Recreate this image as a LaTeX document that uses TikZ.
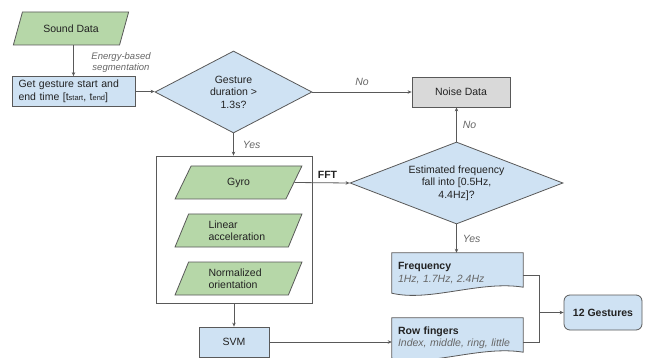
\documentclass[tikz,border=0pt]{standalone}
\usepackage{fontspec}
\setmainfont{Liberation Sans}
\usetikzlibrary{shapes.geometric,arrows.meta,backgrounds}
\definecolor{bluef}{HTML}{CFE2F3}
\definecolor{greenf}{HTML}{B6D7A8}
\definecolor{grayf}{HTML}{D9D9D9}
\definecolor{edge}{HTML}{595959}
\definecolor{lbl}{HTML}{666666}
\definecolor{txt}{HTML}{222222}
\begin{document}
\begin{tikzpicture}[x=1pt,y=-1pt,
  every node/.style={font=\fontsize{10.5}{12.5}\selectfont, text=txt},
  box/.style={draw=edge, line width=0.8pt, inner sep=0pt},
  bluebox/.style={box, fill=bluef},
  para/.style={box, fill=greenf, trapezium, trapezium stretches=true},
  dia/.style={box, fill=bluef, diamond, align=center},
  arr/.style={draw=edge, line width=0.8pt, -{Stealth[length=4pt,width=3.5pt]}},
  ln/.style={draw=edge, line width=0.8pt},
  lab/.style={font=\fontsize{10.5}{12.5}\selectfont\itshape, text=lbl, inner sep=0pt},
  docshape/.style={fill=bluef, draw=edge, line width=0.8pt},
]
\useasboundingbox (0,0) rectangle (645,358);

% nodes
\node[para, trapezium left angle=56, trapezium right angle=124,
      minimum width=116pt, minimum height=33pt] (sound) at (71,28.5) {Sound Data};
\node[bluebox, text width=110pt, inner xsep=6.5pt, minimum height=30pt, align=left]
      (get) at (73.5,91.5) {Get gesture start and\\end time [t{\fontsize{7.5}{8}\selectfont start}, t{\fontsize{7.5}{8}\selectfont end}]};
\node[lab, font=\fontsize{9.5}{11}\selectfont\itshape, align=center] (energy) at (121,63) {Energy-based\\segmentation};
\node[dia, aspect=1.9, minimum width=157pt, minimum height=82pt] (d1) at (233.5,92) {Gesture\\duration >\\1.3s?};
\node[box, fill=grayf, minimum width=98pt, minimum height=30pt] (noise) at (461,92) {Noise Data};
\node[dia, aspect=2.6, minimum width=213pt, minimum height=82pt] (d2) at (456.5,183) {Estimated frequency\\fall into [0.5Hz,\\4.4Hz]?};

\node[box, fill=white, minimum width=156pt, minimum height=147pt] (cont) at (234,229.5) {};
\node[para, trapezium left angle=68, trapezium right angle=112,
      minimum width=127pt, minimum height=33pt] (gyro) at (238.5,182.5) {Gyro};
\node[para, trapezium left angle=68, trapezium right angle=112,
      minimum width=127pt, minimum height=33pt, text width=60pt, align=left] (lin) at (238.5,230.5) {Linear\\acceleration};
\node[para, trapezium left angle=68, trapezium right angle=112,
      minimum width=127pt, minimum height=33pt, text width=60pt, align=left] (norm) at (238.5,278.5) {Normalized\\orientation};
\node[bluebox, minimum width=70pt, minimum height=30pt] (svm) at (234,342) {SVM};

\node[inner sep=0pt, minimum width=131pt, minimum height=40pt, text width=119pt, align=left]
      (freq) at (457.5,273) {\textbf{Frequency}\\{\itshape\color{lbl}1Hz, 1.7Hz, 2.4Hz}};
\node[inner sep=0pt, minimum width=131pt, minimum height=40pt, text width=119pt, align=left]
      (row) at (457.5,338) {\textbf{Row fingers}\\{\itshape\color{lbl}Index, middle, ring, little}};
\node[bluebox, rounded corners=6pt, minimum width=78pt, minimum height=35pt,
      font=\fontsize{10.5}{12.5}\selectfont\bfseries] (gest) at (603,312.5) {12 Gestures};

\begin{scope}[on background layer]
\path[docshape] (freq.north west) -- (freq.north east) -- ([yshift=6pt]freq.south east)
   .. controls +(-43,-7) and +(38,9) .. (freq.south west) -- cycle;
\path[docshape] (row.north west) -- (row.north east) -- ([yshift=6pt]row.south east)
   .. controls +(-43,-7) and +(38,9) .. (row.south west) -- cycle;
\end{scope}

% connectors
\draw[arr] (sound.south -| get.north) -- (get.north);
\draw[arr] (get.east) -- (get.east -| d1.west);
\draw[arr] (d1.east) -- node[lab, above=6pt] {No} (noise.west);
\draw[arr] (d1.south) -- node[lab, right=9pt] {Yes} (d1.south |- cont.north);
\draw[arr] (cont.south) -- (cont.south |- svm.north);
\draw[arr] (gyro.east) -- node[pos=0.6, above=4pt, inner sep=0pt, font=\fontsize{10.5}{12.5}\selectfont\bfseries] {FFT} (d2.west);
\draw[arr] (d2.north) -- node[lab, right=6pt] {No} (d2.north |- noise.south);
\draw[arr] (d2.south) -- node[lab, right=6pt] {Yes} (d2.south |- freq.north);
\draw[arr] (svm.east) -- (svm.east -| row.west);
\coordinate (j) at ([xshift=-24pt]gest.west);
\draw[ln] ([yshift=-2pt]freq.east) -| (j);
\draw[ln] ([yshift=-4pt]row.east) -| (j);
\draw[arr] (j) -- (gest.west);
\end{tikzpicture}
\end{document}
